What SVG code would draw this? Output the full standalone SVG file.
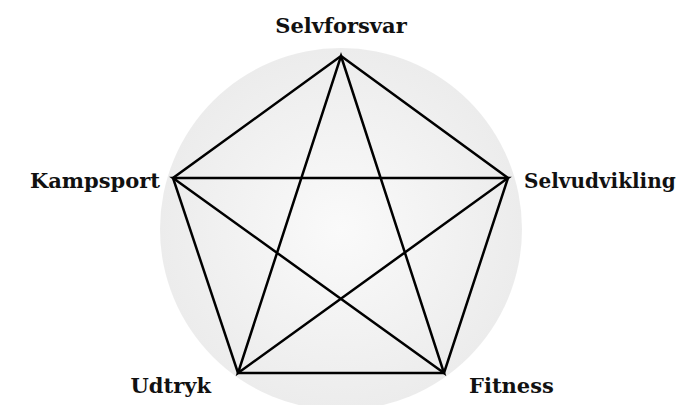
<svg xmlns="http://www.w3.org/2000/svg" width="680" height="405" viewBox="0 0 680 405">
<defs>
<radialGradient id="bg" cx="0.5" cy="0.5" r="0.5">
<stop offset="0" stop-color="#fafafa"/>
<stop offset="1" stop-color="#ececec"/>
</radialGradient>
<style>
.lbl{font-family:"DejaVu Serif","Liberation Serif",serif;font-weight:bold;font-size:21px;fill:#111}
.ln{stroke:#000;stroke-width:2.5;fill:none;stroke-linejoin:miter}
</style>
</defs>
<rect width="680" height="405" fill="#fff"/>
<circle cx="341" cy="229" r="181" fill="url(#bg)"/>
<g id="connectors">
<polygon class="ln" points="341,56 508,178 444,373 238,373 173,178"/>
<polygon class="ln" points="341,56 444,373 173,178 508,178 238,373"/>
</g>
<g id="selvforsvar"><text class="lbl" x="341" y="33" text-anchor="middle">Selvforsvar</text></g>
<g id="kampsport"><text class="lbl" x="160" y="188" text-anchor="end">Kampsport</text></g>
<g id="selvudvikling"><text class="lbl" x="524" y="188" style="font-size:20px">Selvudvikling</text></g>
<g id="udtryk"><text class="lbl" x="211" y="393" text-anchor="end">Udtryk</text></g>
<g id="fitness"><text class="lbl" x="469" y="393">Fitness</text></g>
</svg>
